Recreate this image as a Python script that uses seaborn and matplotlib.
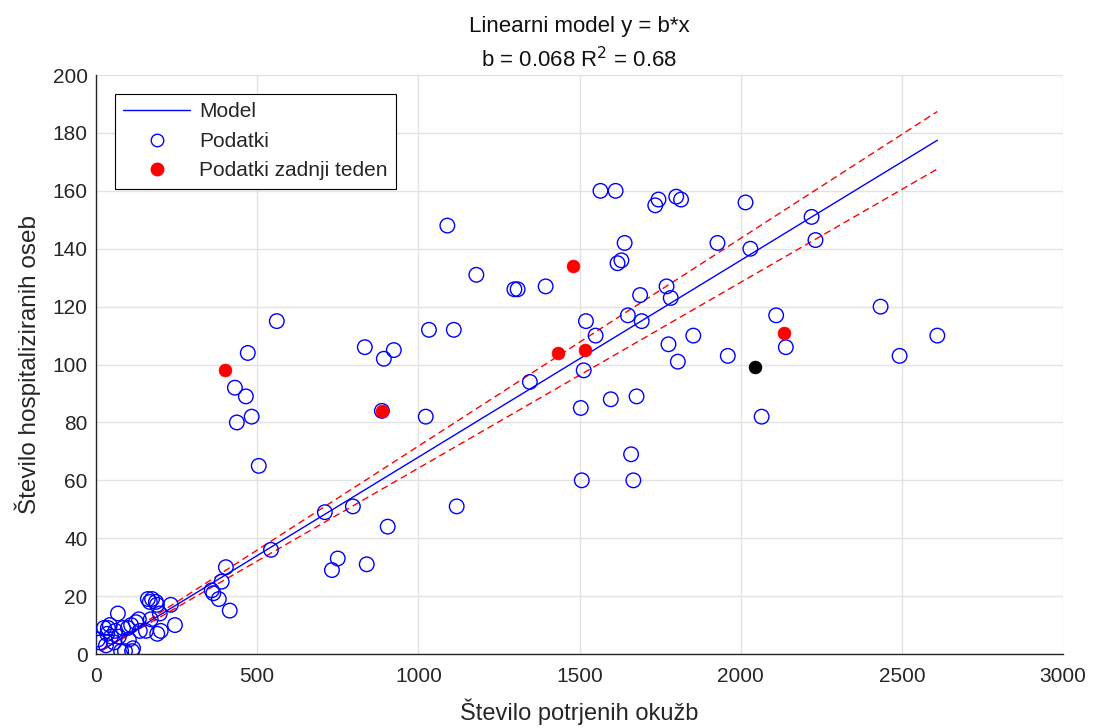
import numpy as np
import pandas as pd
import matplotlib
matplotlib.use('Agg')
import matplotlib.pyplot as plt
import seaborn as sns
from matplotlib.lines import Line2D

# Podatki: potrjene okužbe (x) in hospitalizirani (y)
okuzbe = [6, 12, 25, 31, 35, 37, 43, 47, 56, 60, 68, 71, 78, 84, 90, 99, 102, 109,
          112, 115, 124, 133, 136, 155, 161, 167, 170, 174, 186, 189, 190, 198, 201,
          232, 245,
          359, 364, 381, 390, 403, 415, 431, 437, 465, 471, 483, 505, 543, 561,
          710, 732, 750, 797, 834, 840, 887, 893, 905, 924, 1023, 1033, 1090, 1110,
          1119, 1180, 1298, 1308, 1346, 1395, 1504, 1507, 1513, 1520, 1550, 1565,
          1597, 1612, 1618, 1630, 1640, 1650, 1660, 1667, 1677, 1688, 1693, 1735,
          1745, 1770, 1776, 1783, 1800, 1805, 1815, 1853, 1928, 1960, 2015, 2030,
          2065, 2110, 2140, 2220, 2232, 2434, 2493, 2610]
hospital = [5, 4, 9, 3, 7, 9, 10, 6, 4, 8, 14, 6, 1, 9, 1, 9, 5, 10,
            1, 2, 11, 12, 8, 8, 19, 18, 12, 19, 18, 17, 7, 14, 8,
            17, 10,
            22, 21, 19, 25, 30, 15, 92, 80, 89, 104, 82, 65, 36, 115,
            49, 29, 33, 51, 106, 31, 84, 102, 44, 105, 82, 112, 148, 112,
            51, 131, 126, 126, 94, 127, 85, 60, 98, 115, 110, 160,
            88, 160, 135, 136, 142, 117, 69, 60, 89, 124, 115, 155,
            157, 127, 107, 123, 158, 101, 157, 110, 142, 103, 156, 140,
            82, 117, 106, 151, 143, 120, 103, 110]

# Podatki zadnji teden
zadnji_x = [400, 887, 1432, 1479, 1517, 2133]
zadnji_y = [98, 84, 104, 134, 105, 111]

# Zadnji dan
zadnji_dan_x = [2043]
zadnji_dan_y = [99]

# Model y = b*x in interval zaupanja
b = 0.068
b_zg = 0.0718
b_sp = 0.0642
r2 = 0.68
model_x = [20, 2610]

sns.set_theme(style="white")
plt.rcParams['font.family'] = ['Liberation Sans', 'DejaVu Sans']

fig = plt.figure(figsize=(10.93, 7.28), dpi=100)
ax = fig.add_axes([0.0878, 0.1016, 0.8848, 0.7953])

mx = np.array(model_x, dtype=float)
model_df = pd.DataFrame({'x': mx, 'y': b * mx, 'zg': b_zg * mx, 'sp': b_sp * mx})

sns.lineplot(data=model_df, x='x', y='y', color='#0000ff', lw=1, ax=ax, zorder=3)
sns.lineplot(data=model_df, x='x', y='zg', color='#ff0000', lw=1, ax=ax,
             linestyle=(0, (5, 3)), zorder=3)
sns.lineplot(data=model_df, x='x', y='sp', color='#ff0000', lw=1, ax=ax,
             linestyle=(0, (5, 3)), zorder=3)

df = pd.DataFrame({'okuzbe': okuzbe, 'hospital': hospital})
sns.scatterplot(data=df, x='okuzbe', y='hospital', ax=ax, marker='o', s=110,
                facecolors='none', edgecolor='#0000ff', linewidth=1, zorder=4)
sns.scatterplot(x=zadnji_x, y=zadnji_y, ax=ax, marker='o', s=85,
                color='#ff0000', edgecolor='#ff0000', linewidth=0.5, zorder=5)
sns.scatterplot(x=zadnji_dan_x, y=zadnji_dan_y, ax=ax, marker='o', s=85,
                color='black', edgecolor='black', linewidth=0.5, zorder=5)

ax.set_xlim(0, 3000)
ax.set_ylim(0, 200)
ax.set_xticks(np.arange(0, 3001, 500))
ax.set_yticks(np.arange(0, 201, 20))
ax.grid(True, color='#e3e3e3', lw=1)
ax.set_axisbelow(True)
for s in ['top', 'right']:
    ax.spines[s].set_visible(False)
for s in ['left', 'bottom']:
    ax.spines[s].set_color('#262626')
    ax.spines[s].set_linewidth(1)
ax.tick_params(direction='in', length=7, width=1, color='#262626',
               labelsize=15, labelcolor='#262626')
ax.tick_params(axis='y', pad=6)
ax.tick_params(axis='x', pad=9)

ax.set_xlabel('Število potrjenih okužb', fontsize=17, color='#262626', labelpad=9)
ax.set_ylabel('Število hospitaliziranih oseb', fontsize=17.5, color='#262626', labelpad=8)
ax.set_title('Linearni model y = b*x\n' + f'b = {b} R$^2$ = {r2}',
             fontsize=16, color='#111111', pad=6, linespacing=1.45)

handles = [
    Line2D([], [], color='#0000ff', lw=1),
    Line2D([], [], color='#0000ff', marker='o', ls='none', markerfacecolor='none', ms=9),
    Line2D([], [], color='#ff0000', marker='o', ls='none', ms=9),
]
leg = ax.legend(handles, ['Model', 'Podatki', 'Podatki zadnji teden'],
                loc='upper left', bbox_to_anchor=(0.0196, 0.967), borderaxespad=0,
                fontsize=15, frameon=True, fancybox=False, edgecolor='black',
                framealpha=1, handlelength=3.2, handletextpad=0.45,
                borderpad=0.4, labelspacing=0.5)
leg.get_frame().set_linewidth(0.8)

fig.savefig('out.png', dpi=100)
